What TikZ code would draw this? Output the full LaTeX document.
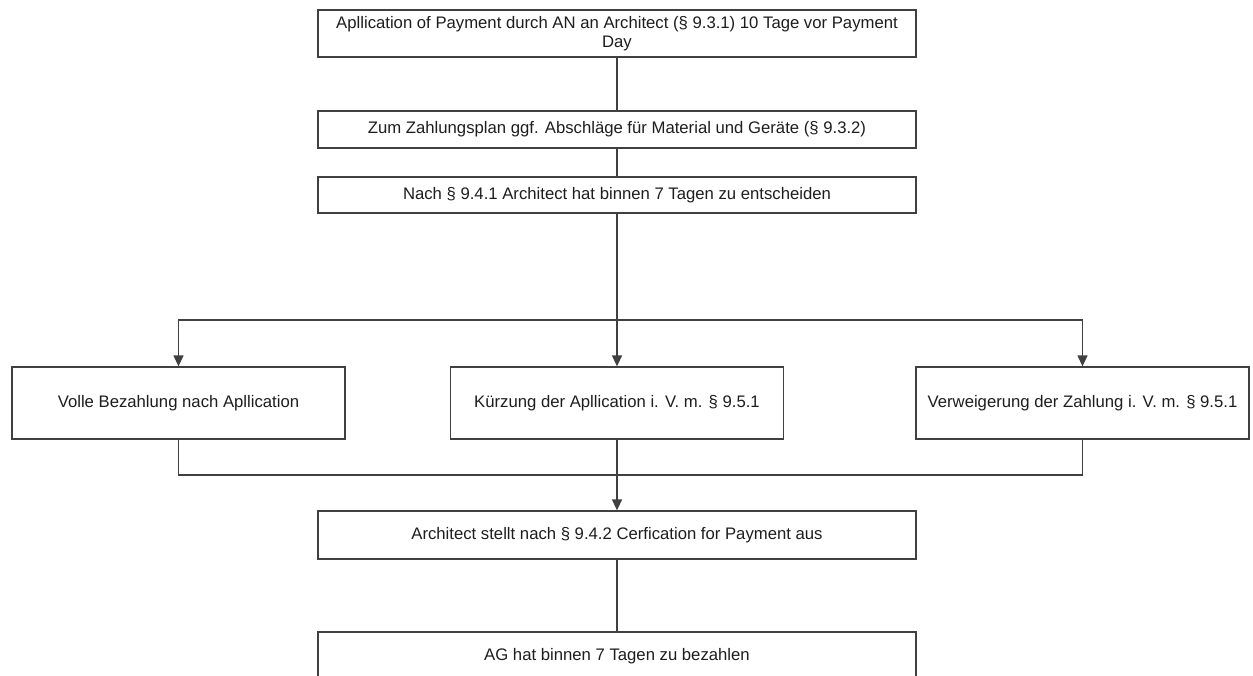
\documentclass[tikz,border=0pt]{standalone}
\usepackage{fontspec}
\setmainfont{Liberation Sans}
\usetikzlibrary{arrows.meta}
\definecolor{edge}{HTML}{404040}
\definecolor{ink}{HTML}{1E1E1E}
\begin{document}
\begin{tikzpicture}[x=1pt,y=-1pt,
  font=\fontsize{16.7}{19.5}\selectfont,
  box/.style={draw=edge, line width=1.3pt, rectangle, inner sep=0pt,
    text=ink, align=center, fill=white},
  wire/.style={draw=edge, line width=1.3pt},
  arr/.style={wire, -{Triangle[width=10pt,length=11pt]}}]
  \useasboundingbox (0,0) rectangle (1253,675);
  \clip (0,0) rectangle (1253,675);
  \fill[white] (0,0) rectangle (1253,675);

  % main column
  \node[box, minimum width=598pt, minimum height=47pt] (apply) at (617,33.5)
    {Apllication of Payment durch AN an Architect (§ 9.3.1) 10 Tage vor Payment\\Day};
  \node[box, minimum width=598pt, minimum height=37pt] (plan) at (617,129.5)
    {Zum Zahlungsplan ggf. Abschläge für Material und Geräte (§ 9.3.2)};
  \node[box, minimum width=598pt, minimum height=36pt] (decide) at (617,195)
    {Nach § 9.4.1 Architect hat binnen 7 Tagen zu entscheiden};

  % three outcomes
  \node[box, minimum width=333pt, minimum height=72pt] (full) at (178.5,403)
    {Volle Bezahlung nach Apllication};
  \node[box, minimum width=333pt, minimum height=72pt] (cut) at (617,403)
    {Kürzung der Apllication i. V. m. § 9.5.1};
  \node[box, minimum width=333pt, minimum height=72pt] (refuse) at (1082.5,403)
    {Verweigerung der Zahlung i. V. m. § 9.5.1};

  % certificate and payment
  \node[box, minimum width=598pt, minimum height=48pt] (cert) at (617,535)
    {Architect stellt nach § 9.4.2 Cerfication for Payment aus};
  \node[box, minimum width=598pt, minimum height=48pt] (pay) at (617,656)
    {AG hat binnen 7 Tagen zu bezahlen};

  % branch and merge points
  \coordinate (split) at (617,320);
  \coordinate (merge) at (617,475);

  \draw[wire] (apply.south) -- (plan.north);
  \draw[wire] (plan.south) -- (decide.north);
  \draw[arr] (decide.south) -- (cut.north);
  \draw[arr] (split) -| (full.north);
  \draw[arr] (split) -| (refuse.north);
  \draw[wire] (full.south) |- (merge);
  \draw[wire] (refuse.south) |- (merge);
  \draw[arr] (cut.south) -- (cert.north);
  \draw[wire] (cert.south) -- (pay.north);
\end{tikzpicture}
\end{document}
